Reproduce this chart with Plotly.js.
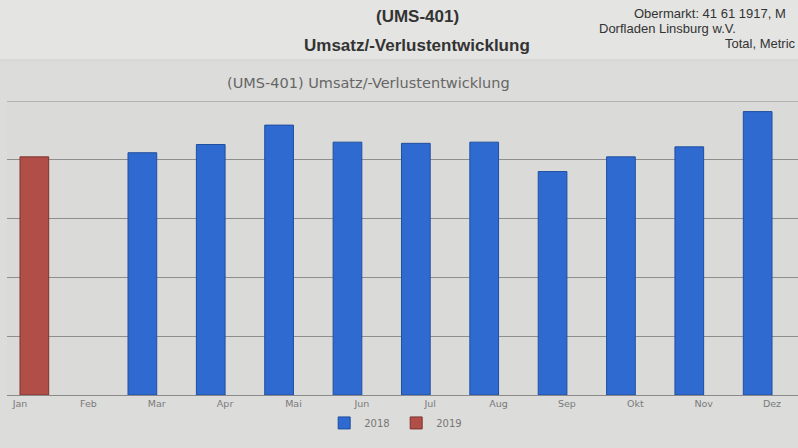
<!DOCTYPE html>
<html>
<head>
<meta charset="utf-8">
<script src="https://cdn.plot.ly/plotly-3.0.1.min.js"></script>
<style>
html,body{margin:0;padding:0;background:#dedede;}
#chart{width:798px;height:448px;}
</style>
</head>
<body>
<div id="chart"></div>
<script>
const monthLabels = ["Jan","Feb","Mar","Apr","Mai","Jun","Jul","Aug","Sep","Okt","Nov","Dez"];
const sales2018 = [null, null, 41.2, 42.6, 45.9, 43.0, 42.8, 43.0, 38.0, 40.5, 42.2, 48.2];
const sales2019 = [40.5, null, null, null, null, null, null, null, null, null, null, null];
const seriesNames = ["2018", "2019"];

const blue = "#2f6ad0";
const red = "#b24e48";

const traces = [
  {type:"bar", name:seriesNames[0], x:monthLabels, y:sales2018,
   marker:{color:blue, line:{color:"#1f4f9e", width:1}}},
  {type:"bar", name:seriesNames[1], x:monthLabels, y:sales2019,
   marker:{color:red, line:{color:"#7e3430", width:1}}}
];

const layout = {
  width:798, height:448,
  margin:{l:7, r:0, t:101, b:53},
  paper_bgcolor:"#dcdcda",
  plot_bgcolor:"#dadad8",
  barmode:"group",
  bargap:0.16,
  bargroupgap:0,
  showlegend:true,
  legend:{orientation:"h", x:0.492, xanchor:"center", y:-0.095, yanchor:"middle",
          font:{family:"DejaVu Sans", size:10, color:"#777"}, bgcolor:"rgba(0,0,0,0)",
          itemwidth:30, entrywidth:27, entrywidthmode:"pixels"},
  xaxis:{type:"category", range:[-0.19, 11.38], showgrid:false, zeroline:false,
         showline:true, linecolor:"#8a8a8a", linewidth:1, ticks:"",
         tickfont:{family:"DejaVu Sans", size:9.5, color:"#7a7a7a"}},
  yaxis:{range:[0,50], dtick:10, showticklabels:false, showgrid:true,
         gridcolor:"#8e8e8e", gridwidth:1, zeroline:false, showline:false},
  shapes:[
    {type:"rect", xref:"paper", yref:"paper", x0:-0.02, x1:1.02, y0:1+41/294, y1:1+101/294,
     fillcolor:"#e4e4e2", line:{width:0}, layer:"below"},
    {type:"line", xref:"paper", yref:"paper", x0:-0.01, x1:1, y0:1+41/294, y1:1+41/294,
     line:{color:"#cfcfcd", width:1}},
    {type:"line", xref:"paper", yref:"y", x0:0, x1:1, y0:50, y1:50,
     line:{color:"#8e8e8e", width:1}}
  ],
  annotations:[
    {xref:"paper", yref:"paper", x:(417-7)/791, y:1+(101-16)/294, xanchor:"center", yanchor:"middle",
     showarrow:false, text:"<b>(UMS-401)</b>", font:{family:"Liberation Sans", size:17, color:"#333"}},
    {xref:"paper", yref:"paper", x:(417-7)/791, y:1+(101-45)/294, xanchor:"center", yanchor:"middle",
     showarrow:false, text:"<b>Umsatz/-Verlustentwicklung</b>", font:{family:"Liberation Sans", size:17, color:"#333"}},
    {xref:"paper", yref:"paper", x:(632-7)/791, y:1+(101-13)/294, xanchor:"left", yanchor:"middle",
     showarrow:false, text:"Obermarkt: 41 61 1917, M", font:{family:"Liberation Sans", size:13, color:"#333"}},
    {xref:"paper", yref:"paper", x:(597-7)/791, y:1+(101-29)/294, xanchor:"left", yanchor:"middle",
     showarrow:false, text:"Dorfladen Linsburg w.V.", font:{family:"Liberation Sans", size:13, color:"#333"}},
    {xref:"paper", yref:"paper", x:1, y:1+(101-43)/294, xanchor:"right", yanchor:"middle",
     showarrow:false, text:"Total, Metric", font:{family:"Liberation Sans", size:13, color:"#333"}},
    {xref:"paper", yref:"paper", x:(368-7)/791, y:1+(101-83)/294, xanchor:"center", yanchor:"middle",
     showarrow:false, text:"(UMS-401) Umsatz/-Verlustentwicklung", font:{family:"DejaVu Sans", size:14.5, color:"#666"}}
  ]
};

Plotly.newPlot("chart", traces, layout, {displayModeBar:false, staticPlot:true});
</script>
</body>
</html>
